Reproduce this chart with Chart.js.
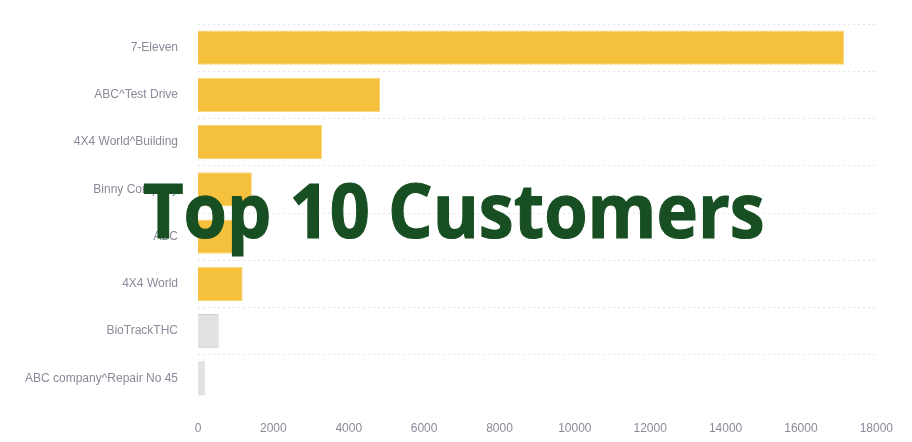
<!DOCTYPE html>
<html>
<head>
<meta charset="utf-8">
<script src="https://cdn.jsdelivr.net/npm/chart.js@4"></script>
<style>
  html, body { margin: 0; padding: 0; background: #fff; }
  #wrap { position: relative; width: 912px; height: 442px; }
  #overlay {
    position: absolute; left: 0; top: 171px; width: 912px;
    text-align: center; font-family: "Open Sans", sans-serif; font-weight: 700;
    font-size: 76px; line-height: 76px; color: #184F22; white-space: nowrap;
    pointer-events: none; -webkit-text-stroke: 1.2px #184F22;
  }
  #overlay span { display: inline-block; transform: scaleX(0.923); transform-origin: center; margin-left: -4px; }
</style>
</head>
<body>
<div id="wrap">
  <canvas id="c" width="912" height="442"></canvas>
  <div id="overlay"><span>Top 10 Customers</span></div>
</div>
<script>
const categories = ["7-Eleven", "ABC^Test Drive", "4X4 World^Building", "Binny Company", "ABC", "4X4 World", "BioTrackTHC", "ABC company^Repair No 45"];
const values = [17150, 4830, 3290, 1430, 1190, 1185, 550, 180];
const highlighted = [true, true, true, true, true, true, false, false];
const xTicks = [0, 2000, 4000, 6000, 8000, 10000, 12000, 14000, 16000, 18000];

const fills = highlighted.map(h => h ? '#F5C13D' : '#E2E2E2');
const borders = highlighted.map(h => h ? '#F8D67C' : '#CFCFCF');

new Chart(document.getElementById('c'), {
  type: 'bar',
  data: {
    labels: categories,
    datasets: [{
      data: values,
      backgroundColor: fills,
      borderColor: borders,
      borderWidth: 1,
      barPercentage: 0.9,
      categoryPercentage: 0.8
    }]
  },
  options: {
    indexAxis: 'y',
    responsive: false,
    animation: false,
    devicePixelRatio: 1,
    layout: { padding: { top: 24, right: 32, left: 0, bottom: 0 } },
    plugins: { legend: { display: false }, tooltip: { enabled: false }, title: { display: false } },
    scales: {
      x: {
        min: 0, max: 18000,
        afterBuildTicks: s => { s.ticks = xTicks.map(v => ({ value: v })); },
        grid: { display: false, drawTicks: false },
        border: { display: false },
        ticks: { color: '#8A8A9A', font: { family: 'Liberation Sans, Arial', size: 12 }, padding: 19, maxRotation: 0,
                 callback: v => String(v) },
        afterFit: s => { s.height = 40; }
      },
      y: {
        grid: {
          offset: true, drawTicks: true, tickLength: 20, tickColor: 'rgba(0,0,0,0)',
          color: ctx => ctx.type === 'scale' ? 'rgba(0,0,0,0)' : '#E4E4EC',
          lineWidth: 1
        },
        border: { display: false, dash: [2, 3] },
        ticks: { color: '#8A8A9A', font: { family: 'Liberation Sans, Arial', size: 12 }, padding: 0 },
        afterFit: s => { s.width = 198; }
      }
    }
  }
});
</script>
</body>
</html>
